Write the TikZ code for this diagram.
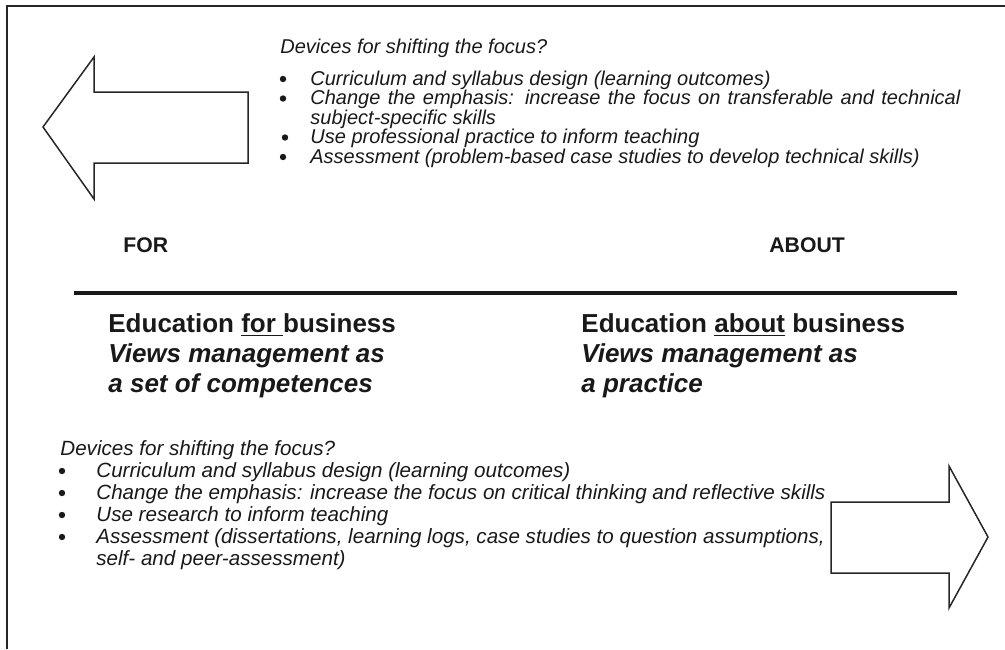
\documentclass[tikz,border=0pt]{standalone}
\usepackage{fontspec}
\setmainfont{Liberation Sans}
\usetikzlibrary{positioning}
\begin{document}
\begin{tikzpicture}[x=0.5pt,y=-0.5pt]
\tikzstyle{outline}=[draw=black!85, line width=0.75pt, line join=miter]
\tikzstyle{item}=[anchor=base west, inner sep=0pt, text=black!90,
	font=\fontsize{10}{12}\selectfont\itshape]
\tikzstyle{lowitem}=[item, font=\fontsize{10.3}{12}\selectfont\itshape]
\tikzstyle{dot}=[fill=black!90]
\tikzstyle{heading}=[anchor=base west, inner sep=0pt, align=left, text=black!90,
	font=\fontsize{13}{15}\selectfont\bfseries]
\tikzstyle{side}=[anchor=base west, inner sep=0pt, text=black!90,
	font=\fontsize{10.6}{12}\selectfont\bfseries]
\useasboundingbox (0,0) rectangle (1005,649);

% frame
\draw[black!85, line width=1pt] (7,649) -- (7,6) -- (1005,6);

% arrows
\draw[outline] (43,127) -- (94,57) -- (94,92) -- (248,92) -- (248,163)
	-- (94,163) -- (94,199) -- cycle;
\draw[outline] (988,537) -- (949,466) -- (949,502) -- (831,502) -- (831,573)
	-- (949,573) -- (949,608) -- cycle;

% top list
\node[item] (tq) at (280,53) {Devices for shifting the focus?};
\node[item] (t1) at (310,85) {Curriculum and syllabus design (learning outcomes)};
\node[item] (t2) at (310,104.5) {\makebox[325pt][s]{Change the emphasis: increase the focus on transferable and technical}};
\node[item] (t2b) at (310,124) {subject-specific skills};
\node[item] (t3) at (310,143.5) {Use professional practice to inform teaching};
\node[item] (t4) at (310,163) {Assessment (problem-based case studies to develop technical skills)};
\fill[dot] (283,79) circle (3.2);
\fill[dot] (283,98.5) circle (3.2);
\fill[dot] (285,137.5) circle (3.2);
\fill[dot] (283,157) circle (3.2);

% middle
\node[side] (for) at (123,252) {FOR};
\node[side] (about) at (769,252) {ABOUT};
\draw[black!90, line width=2pt] (74,293) -- (957,293);
\node[heading] (edfor) at (108,392) {Education \underline{for\ }business\\
	\textit{Views management as}\\ \textit{a set of competences}};
\node[heading] (edabout) at (581,392) {Education \underline{about} business\\
	\textit{Views management as}\\ \textit{a practice}};

% bottom list
\node[lowitem] (bq) at (60,455) {Devices for shifting the focus?};
\node[lowitem] (b1) at (96,477) {Curriculum and syllabus design (learning outcomes)};
\node[lowitem] (b2) at (96,499) {Change the emphasis: increase the focus on critical thinking and reflective skills};
\node[lowitem] (b3) at (96,521) {Use research to inform teaching};
\node[lowitem] (b4) at (96,543) {Assessment (dissertations, learning logs, case studies to question assumptions,};
\node[lowitem] (b4b) at (96,565) {self- and peer-assessment)};
\fill[dot] (62,471) circle (3.2);
\fill[dot] (62,493) circle (3.2);
\fill[dot] (62,515) circle (3.2);
\fill[dot] (62,537) circle (3.2);

\end{tikzpicture}
\end{document}
